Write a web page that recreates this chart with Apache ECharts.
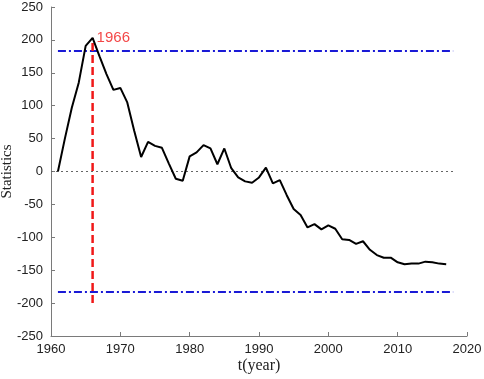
<!DOCTYPE html>
<html>
<head>
<meta charset="utf-8">
<script src="https://cdn.jsdelivr.net/npm/echarts@6/dist/echarts.min.js"></script>
<style>
  html, body { margin: 0; padding: 0; background: #fff; }
  #chart { width: 484px; height: 379px; }
</style>
</head>
<body>
<div id="chart"></div>
<script>
// yearly statistics, 1961-2017
const years = [];
for (let y = 1961; y <= 2017; y++) years.push(y);
const stats = [
  0, 50, 97, 135, 191, 203, 175, 148, 124, 127,
  105, 62, 22, 45, 39, 36, 12, -11, -14, 23,
  29, 40, 35, 11, 35, 5, -9, -15, -17, -9,
  6, -18, -13, -36, -57, -66, -85, -80, -88, -82,
  -87, -103, -104, -110, -106, -119, -127, -131, -131, -138,
  -141, -140, -140, -137, -138, -140, -141
];
const limitValue = 183;
const limitYears = [1961, 2018];
const zeroYears = [1960, 2018];
const peakYear = 1966;
const peakRange = [-200, 203];
const xTicks = [1960, 2020, 10];
const yTicks = [-250, 250, 50];

const chart = echarts.init(document.getElementById('chart'));
const tickFont = { fontFamily: 'Liberation Sans', fontSize: 13, color: '#222' };

chart.setOption({
  animation: false,
  grid: { left: 51, right: 17, top: 7, bottom: 43, containLabel: false, outerBoundsMode: 'none' },
  xAxis: {
    type: 'value',
    min: xTicks[0], max: xTicks[1], interval: xTicks[2],
    name: 't(year)', nameLocation: 'middle', nameGap: 22, nameMoveOverlap: false,
    nameTextStyle: { fontFamily: 'Liberation Serif', fontSize: 16, color: '#222' },
    axisLine: { onZero: false, lineStyle: { color: '#7a7a7a', width: 1 } },
    axisTick: { inside: true, length: 4, lineStyle: { color: '#7a7a7a' } },
    axisLabel: Object.assign({ margin: 7, formatter: v => String(v) }, tickFont),
    splitLine: { show: false }
  },
  yAxis: {
    type: 'value',
    min: yTicks[0], max: yTicks[1], interval: yTicks[2],
    name: 'Statistics', nameLocation: 'middle', nameGap: 36, nameMoveOverlap: false,
    nameTextStyle: { fontFamily: 'Liberation Serif', fontSize: 15, color: '#222' },
    axisLine: { show: true, onZero: false, lineStyle: { color: '#7a7a7a', width: 1 } },
    axisTick: { show: true, inside: true, length: 4, lineStyle: { color: '#7a7a7a' } },
    axisLabel: Object.assign({ margin: 8 }, tickFont),
    splitLine: { show: false }
  },
  series: [
    {
      type: 'line', symbol: 'none', silent: true,
      data: zeroYears.map(y => [y, 0]),
      lineStyle: { color: '#666', width: 1, type: [2, 3] }
    },
    {
      type: 'line', symbol: 'none', silent: true,
      data: limitYears.map(y => [y, limitValue]),
      lineStyle: { color: '#1a1ad6', width: 2, type: [8, 3, 2, 3] }
    },
    {
      type: 'line', symbol: 'none', silent: true,
      data: limitYears.map(y => [y, -limitValue]),
      lineStyle: { color: '#1a1ad6', width: 2, type: [8, 3, 2, 3] }
    },
    {
      type: 'line', symbol: 'none', silent: true,
      data: peakRange.map(v => [peakYear, v]),
      lineStyle: { color: '#f01818', width: 2.5, type: [8, 4] }
    },
    {
      type: 'line', symbol: 'none',
      data: years.map((y, i) => [y, stats[i]]),
      lineStyle: { color: '#000', width: 2 }
    },
    {
      type: 'scatter', symbolSize: 0, silent: true,
      data: [[peakYear, peakRange[1]]],
      label: {
        show: true, position: 'right', distance: 4, formatter: String(peakYear),
        fontFamily: 'Liberation Sans', fontSize: 15, color: '#f01818'
      }
    }
  ]
});
</script>
</body>
</html>
